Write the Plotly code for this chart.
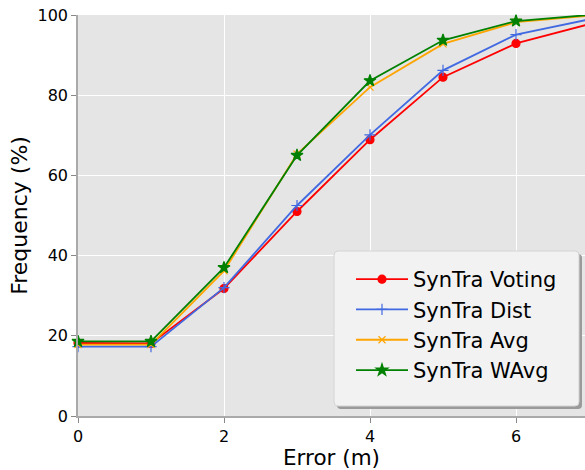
import plotly.graph_objects as go

errors = [0, 1, 2, 3, 4, 5, 6, 7]
voting = [18.2, 18.1, 31.8, 51.0, 68.9, 84.5, 92.9, 97.7]
dist = [17.3, 17.3, 32.0, 52.5, 70.1, 86.2, 95.1, 98.9]
avg = [17.8, 17.8, 36.2, 65.3, 82.0, 92.8, 98.2, 99.8]
wavg = [18.6, 18.6, 37.0, 65.0, 83.6, 93.7, 98.5, 100.0]

series = [
    ("SynTra Voting", voting, "#ff0000", "circle", 8),
    ("SynTra Dist", dist, "#4169e1", "cross-thin", 8),
    ("SynTra Avg", avg, "#ffa500", "x-thin", 7),
    ("SynTra WAvg", wavg, "#008000", "star", 9),
]

fig = go.Figure()
for name, vals, color, sym, size in series:
    fig.add_trace(go.Scatter(
        x=errors, y=vals, name=name, mode="lines+markers",
        line=dict(color=color, width=1.8),
        marker=dict(symbol=sym, size=size, color=color,
                    line=dict(color=color, width=1.2)),
        cliponaxis=False,
    ))

font = "DejaVu Sans, Verdana, sans-serif"
L, R, T, B = 78, 0, 15, 54
W, H = 585, 470
pw, ph = W - L - R, H - T - B


def px_x(p):
    return (p - L) / pw


def px_y(p):
    return (H - B - p) / ph


def rounded_rect(x0, y0, x1, y1, r):
    X = lambda p: px_x(p)
    Y = lambda p: px_y(p)
    return (f"M {X(x0 + r)} {Y(y0)} L {X(x1 - r)} {Y(y0)} "
            f"Q {X(x1)} {Y(y0)} {X(x1)} {Y(y0 + r)} L {X(x1)} {Y(y1 - r)} "
            f"Q {X(x1)} {Y(y1)} {X(x1 - r)} {Y(y1)} L {X(x0 + r)} {Y(y1)} "
            f"Q {X(x0)} {Y(y1)} {X(x0)} {Y(y1 - r)} L {X(x0)} {Y(y0 + r)} "
            f"Q {X(x0)} {Y(y0)} {X(x0 + r)} {Y(y0)} Z")


bx0, by0, bx1, by1 = 334, 251, 579, 406
fig.add_shape(type="path", xref="paper", yref="paper", layer="above",
              path=rounded_rect(bx0 + 3, by0 + 3, bx1 + 3, by1 + 3, 4),
              fillcolor="#9a9a9a", line=dict(width=0))
fig.add_shape(type="path", xref="paper", yref="paper", layer="above",
              path=rounded_rect(bx0, by0, bx1, by1, 4),
              fillcolor="#f2f2f2", line=dict(color="#d4d4d4", width=1))

fig.update_layout(
    width=W, height=H,
    margin=dict(l=L, r=R, t=T, b=B),
    paper_bgcolor="white", plot_bgcolor="#e5e5e5",
    font=dict(family=font, color="black"),
    showlegend=True,
    legend=dict(
        x=px_x(351), y=px_y(259), xanchor="left", yanchor="top",
        bgcolor="rgba(0,0,0,0)", borderwidth=0,
        font=dict(size=21, family=font),
        itemwidth=52, tracegroupgap=0,
    ),
    xaxis=dict(
        range=[0, pw / 73.0], tickvals=[0, 2, 4, 6],
        showgrid=True, gridcolor="white", gridwidth=1.2, zeroline=False,
        showline=True, linecolor="#aaaaaa", linewidth=1.5,
        ticks="outside", ticklen=5, tickcolor="#888888",
        tickfont=dict(size=16), title=dict(text="Error (m)", font=dict(size=21.5), standoff=4),
    ),
    yaxis=dict(
        range=[0, 100], tickvals=[0, 20, 40, 60, 80, 100],
        showgrid=True, gridcolor="white", gridwidth=1.2, zeroline=False,
        showline=True, linecolor="#aaaaaa", linewidth=1.5,
        ticks="outside", ticklen=5, tickcolor="#888888",
        tickfont=dict(size=16), title=dict(text="Frequency (%)", font=dict(size=22), standoff=4),
    ),
)

fig.write_html("out.html", config={"displayModeBar": False},
               post_script="document.body.style.margin='0';document.body.style.overflow='hidden';")
